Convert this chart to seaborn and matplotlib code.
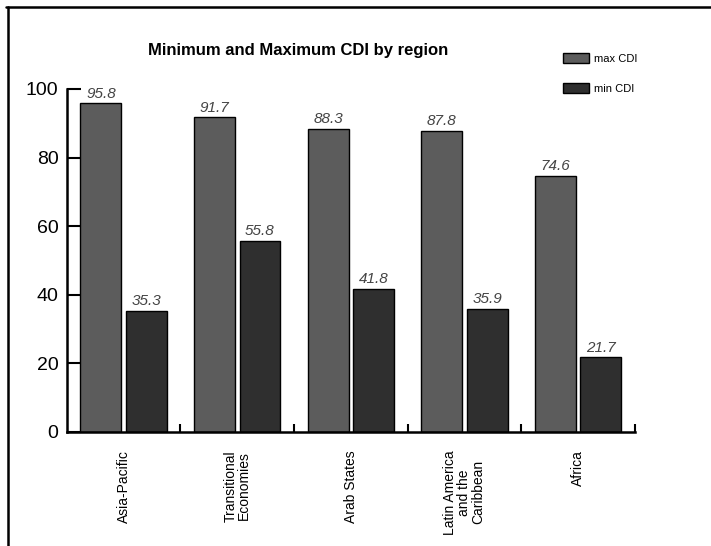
import matplotlib
matplotlib.use("Agg")
import matplotlib.pyplot as plt
import matplotlib.patches as mpatches
import matplotlib.lines as mlines
import seaborn as sns
import pandas as pd

# Data
regions = ["Asia-Pacific", "Transitional\nEconomies", "Arab States",
           "Latin America\nand the\nCaribbean", "Africa"]
max_cdi = [95.8, 91.7, 88.3, 87.8, 74.6]
min_cdi = [35.3, 55.8, 41.8, 35.9, 21.7]
series_names = ["max CDI", "min CDI"]
y_ticks = [0, 20, 40, 60, 80, 100]

sns.set_theme(style="white")
plt.rcParams["font.family"] = ["Liberation Sans", "DejaVu Sans"]
plt.rcParams["text.color"] = "black"

df = pd.DataFrame({
    "region": regions * 2,
    "value": max_cdi + min_cdi,
    "series": [series_names[0]] * len(regions) + [series_names[1]] * len(regions),
})
colors = {"max CDI": "#5c5c5c", "min CDI": "#2f2f2f"}

fig = plt.figure(figsize=(7.11, 5.46), dpi=100)
ax = fig.add_axes([0.094, 0.209, 0.799, 0.628])

sns.barplot(data=df, x="region", y="value", hue="series", palette=colors,
            width=0.8, gap=0.1, edgecolor="black", linewidth=1.0,
            saturation=1, legend=False, ax=ax)

# value labels
for cont in ax.containers:
    ax.bar_label(cont, fmt="%.1f", padding=2, fontsize=11, fontstyle="italic",
                 color="#444444", clip_on=False)

ax.set_ylim(0, 100)
ax.set_xlim(-0.5, len(regions) - 0.5)
ax.set_yticks(y_ticks)
ax.set_yticklabels([str(t) for t in y_ticks], fontsize=14, color="black")
ax.tick_params(axis="y", left=True, direction="in", length=10, width=1.5,
               color="black", pad=6)

ax.set_xticks(range(len(regions)))
ax.set_xticklabels(regions, rotation=90, fontsize=10, va="top", ha="center",
                   multialignment="center", color="black", linespacing=1.0)
ax.tick_params(axis="x", which="major", bottom=False, length=0, pad=13)
ax.set_xticks([i + 0.5 for i in range(len(regions))], minor=True)
ax.tick_params(axis="x", which="minor", bottom=True, direction="in", length=6,
               width=1.5, color="black")
ax.set_xlabel("")
ax.set_ylabel("")

for side in ["top", "right"]:
    ax.spines[side].set_visible(False)
for side in ["left", "bottom"]:
    ax.spines[side].set_color("black")
    ax.spines[side].set_linewidth(1.8)

fig.text(0.42, 0.908, "Minimum and Maximum CDI by region", ha="center",
         va="center", fontsize=12, fontweight="bold", color="black")

handles = [mpatches.Patch(facecolor=colors[s], edgecolor="black", label=s)
           for s in series_names]
fig.legend(handles=handles, loc="upper left", bbox_to_anchor=(0.778, 0.922),
           frameon=False, fontsize=8, handlelength=2.3, handleheight=1.1,
           labelspacing=1.7, handletextpad=0.5)

# scanned page frame: top and left edges only
fig.add_artist(mlines.Line2D([0.009, 1.0], [0.987, 0.987], transform=fig.transFigure,
                             color="black", linewidth=1.8))
fig.add_artist(mlines.Line2D([0.011, 0.011], [0.0, 0.987], transform=fig.transFigure,
                             color="black", linewidth=1.8))

fig.savefig("out.png", dpi=100)
